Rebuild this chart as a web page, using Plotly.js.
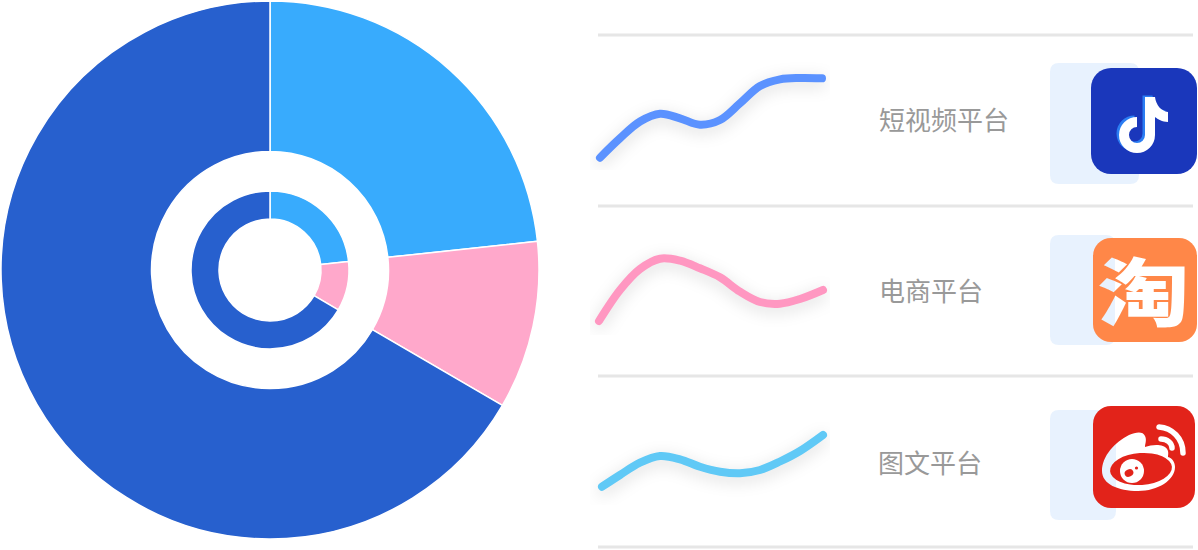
<!DOCTYPE html>
<html>
<head>
<meta charset="utf-8">
<script src="https://cdn.plot.ly/plotly-3.0.1.min.js"></script>
<style>
html,body{margin:0;padding:0;background:#fff;overflow:hidden}
#chart{width:1198px;height:550px}
.scatterlayer .js-line{stroke-linecap:round!important;filter:drop-shadow(0 4px 8px rgba(0,0,0,.15))}
</style>
</head>
<body>
<div id="chart"></div>
<script>
// ---- data ----
const shareLabels = ['短视频平台', '电商平台', '图文平台'];
const outerShare = [23.3, 10.1, 66.6];
const innerShare = [23.3, 10.1, 66.6];
const pieColors = ['#38ABFD', '#FFA8CB', '#2760CE'];

const videoX = [10, 30, 50, 70, 90, 110, 130, 150, 170, 190, 210, 232];
const videoY = [12.3, 31.7, 48.5, 56.3, 51.7, 45.3, 50, 66.7, 84, 90.7, 92, 91.7];
const shopX  = [9, 30, 50, 70, 90, 110, 130, 150, 170, 190, 210, 233];
const shopY  = [14, 45, 66, 76.3, 74.3, 66.7, 57.7, 43.3, 33, 31.3, 36, 45];
const textX  = [12, 30, 50, 70, 90, 110, 130, 150, 170, 190, 210, 233];
const textY  = [18.3, 30, 42.3, 49, 45.7, 38.3, 33.3, 31.7, 35, 43.5, 54, 70];
const lineColors = ['#5B92FF', '#FF97C1', '#60C9F6'];

// ---- helpers: page pixels to paper fractions ----
const W = 1198, H = 550;
const px = v => v / W, py = v => 1 - v / H;
const svgUri = s => 'data:image/svg+xml;charset=utf-8,' + encodeURIComponent(s);
function roundRect(x0, y0, x1, y1, r) {
  const rx = r / W, ry = r / H, a = px(x0), b = px(x1), t = py(y0), u = py(y1);
  return `M${a + rx},${t} L${b - rx},${t} Q${b},${t} ${b},${t - ry} L${b},${u + ry} Q${b},${u} ${b - rx},${u} L${a + rx},${u} Q${a},${u} ${a},${u + ry} L${a},${t - ry} Q${a},${t} ${a + rx},${t} Z`;
}

// ---- logos ----
const notePath = 'M54 29H64C65 37 70 43 77 44V54C71 54 67 51 64 49V67A18 18 0 1 1 46 49V59A8 8 0 1 0 54 67Z';
const douyin = `<svg xmlns="http://www.w3.org/2000/svg" width="318" height="318" viewBox="0 0 106 106">
<rect width="106" height="106" rx="20" fill="#1A37BB"/>
<path d="${notePath}" transform="translate(-2.5,-1.5)" fill="#2B7DF2"/>
<path d="${notePath}" fill="#fff"/></svg>`;
const taobao = `<svg xmlns="http://www.w3.org/2000/svg" width="312" height="312" viewBox="0 0 104 104">
<defs><mask id="m"><rect width="104" height="104" fill="#fff"/>
<text transform="translate(50.5,81.5) scale(1.24,1)" text-anchor="middle" font-family="Noto Sans CJK SC" font-weight="900" font-size="74" fill="#000">淘</text></mask></defs>
<rect width="104" height="104" rx="18" fill="#FF8748" mask="url(#m)"/></svg>`;
const weibo = `<svg xmlns="http://www.w3.org/2000/svg" width="306" height="306" viewBox="0 0 102 102">
<defs><mask id="w"><rect width="102" height="102" fill="#fff"/>
<path d="M9 65C9 50 22 36 36 29C43 26 50 25 52 30C54 34 52 38 52 41C60 38 71 38 74 43C76 46 75 49 75 51C79 52 82 56 82 61C82 74 65 85 45 85C25 85 9 78 9 65Z" fill="#000"/>
<ellipse cx="48" cy="63" rx="31" ry="16" transform="rotate(-4 48 63)" fill="#fff"/>
<circle cx="39" cy="65" r="12" fill="#000"/></mask></defs>
<rect width="102" height="102" rx="18" fill="#E2231A" mask="url(#w)"/>
<ellipse cx="36" cy="67" rx="4.5" ry="3.6" transform="rotate(-25 36 67)" fill="#E2231A"/>
<circle cx="43.5" cy="62" r="1.6" fill="#E2231A"/>
<path d="M66 21C79 22 90 32 90 47M68 33C74 33 79 37 79 42" fill="none" stroke="#fff" stroke-width="5.5" stroke-linecap="round"/></svg>`;

// ---- traces ----
const pie = (values, hole, x0, x1, y0, y1, lw) => ({
  type: 'pie', values, labels: shareLabels, hole, sort: false, direction: 'clockwise', rotation: 0,
  textinfo: 'none', hoverinfo: 'skip', showlegend: false,
  marker: {colors: pieColors, line: {color: '#fff', width: lw}},
  domain: {x: [px(x0), px(x1)], y: [py(y1), py(y0)]}
});
const line = (x, y, color, n) => ({
  type: 'scatter', mode: 'lines', x, y, xaxis: 'x' + n, yaxis: 'y' + n,
  line: {color, width: 8, shape: 'spline', smoothing: 1},
  hoverinfo: 'skip', showlegend: false, cliponaxis: false
});
const data = [
  pie(outerShare, 118.5 / 269, 1, 539, 1, 539, 1.5),
  pie(innerShare, 51 / 79, 191, 349, 191, 349, 1.5),
  line(videoX, videoY, lineColors[0], ''),
  line(shopX, shopY, lineColors[1], '2'),
  line(textX, textY, lineColors[2], '3')
];

// ---- layout ----
const xAxis = {domain: [px(590), px(830)], range: [0, 240], visible: false, fixedrange: true};
const yAxis = (top, anchor) => ({domain: [py(top + 110), py(top)], range: [0, 110], visible: false, fixedrange: true, anchor});
const rule = y => ({type: 'line', xref: 'paper', yref: 'paper', x0: px(598), x1: px(1193), y0: py(y), y1: py(y), line: {color: '#E6E6E6', width: 3}, layer: 'below'});
const panel = (x0, y0, x1, y1) => ({type: 'path', xref: 'paper', yref: 'paper', path: roundRect(x0, y0, x1, y1, 9), fillcolor: '#E8F2FE', line: {width: 0}, layer: 'below'});
const logo = (svg, x0, y0, size) => ({source: svgUri(svg), xref: 'paper', yref: 'paper', x: px(x0), y: py(y0), sizex: size / W, sizey: size / H, sizing: 'stretch', xanchor: 'left', yanchor: 'top', layer: 'above'});
const label = (text, x, y) => ({text, xref: 'paper', yref: 'paper', x: px(x), y: py(y), xanchor: 'left', yanchor: 'middle', showarrow: false,
  font: {family: '"Noto Sans CJK SC", sans-serif', size: 26, color: '#999999'}});

const layout = {
  width: W, height: H, margin: {l: 0, r: 0, t: 0, b: 0, pad: 0}, paper_bgcolor: '#fff', plot_bgcolor: 'rgba(0,0,0,0)', showlegend: false,
  xaxis: {...xAxis, anchor: 'y'}, xaxis2: {...xAxis, anchor: 'y2'}, xaxis3: {...xAxis, anchor: 'y3'},
  yaxis: yAxis(60, 'x'), yaxis2: yAxis(225, 'x2'), yaxis3: yAxis(395, 'x3'),
  shapes: [rule(35), rule(206), rule(376), rule(547),
    panel(1050, 63, 1139, 184), panel(1050, 235, 1115, 345), panel(1050, 410, 1116, 520)],
  images: [logo(douyin, 1091, 68, 106), logo(taobao, 1093, 238, 104), logo(weibo, 1093, 406, 102)],
  annotations: [label(shareLabels[0], 877, 119), label(shareLabels[1], 877, 289.5), label(shareLabels[2], 875.5, 461.5)]
};
Plotly.newPlot('chart', data, layout, {staticPlot: true, displayModeBar: false, responsive: false});
</script>
</body>
</html>
